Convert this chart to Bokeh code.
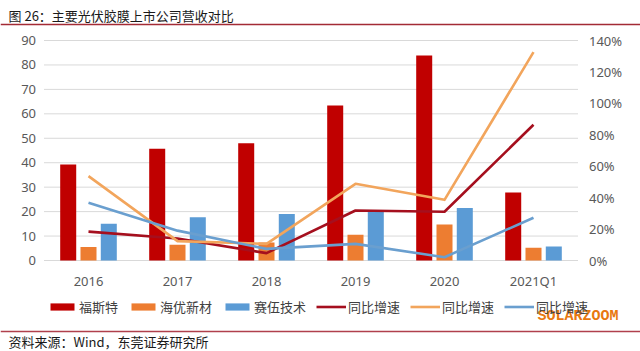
from bokeh.plotting import figure
from bokeh.models import (ColumnDataSource, Range1d, LinearAxis, FixedTicker,
                          PrintfTickFormatter, Legend, LegendItem, Label, Span)
from bokeh.transform import dodge
from bokeh.embed import file_html
from bokeh.resources import INLINE

# ---------------- data ----------------
categories = ["2016", "2017", "2018", "2019", "2020", "2021Q1"]
revenue_fst = [39.3, 45.7, 48.0, 63.4, 83.9, 27.8]      # 福斯特
revenue_hy = [5.5, 6.4, 7.4, 10.5, 14.7, 5.2]           # 海优新材
revenue_sw = [15.0, 17.7, 19.0, 20.0, 21.5, 5.7]        # 赛伍技术
growth_fst = [18.4, 14.0, 4.7, 31.8, 31.0, 86.4]        # 同比增速 (%)
growth_hy = [53.7, 12.3, 10.6, 48.8, 38.6, 132.6]
growth_sw = [36.7, 19.0, 7.4, 10.6, 2.1, 27.2]
left_ticks = [0, 10, 20, 30, 40, 50, 60, 70, 80, 90]
right_ticks = [0, 20, 40, 60, 80, 100, 120, 140]
series_names = ["福斯特", "海优新材", "赛伍技术", "同比增速", "同比增速", "同比增速"]
title_text = "图 26：主要光伏胶膜上市公司营收对比"
source_text = "资料来源：Wind，东莞证券研究所"
watermark = "SOLARZOOM"

# ---------------- layout ----------------
W, H = 640, 351
PL, PR, PT, PB = 43.5, 577.5, 40.0, 260.0
n = len(categories)
cw = (PR - PL) / n
x_start = -0.5 - PL / cw
x_end = (n - 0.5) + (W - PR) / cw
lmax, rmax = left_ticks[-1], right_ticks[-1]
ph = PB - PT
y_start = -(H - PB) / ph * lmax
y_end = lmax + PT / ph * lmax
r_start = -(H - PB) / ph * rmax
r_end = rmax + PT / ph * rmax

RED, ORANGE, BLUE = "#C00000", "#ED7D31", "#5B9BD5"
LRED, LORANGE, LBLUE = "#A50F1E", "#F2A55C", "#6A9FCF"
TXT = "#595959"
FONT = "Noto Sans CJK SC"

p = figure(width=W, height=H, output_backend="svg", toolbar_location=None,
           x_axis_type=None, y_axis_type=None,
           x_range=Range1d(x_start, x_end), y_range=Range1d(y_start, y_end),
           min_border=0, min_border_left=0, min_border_right=0,
           min_border_top=0, min_border_bottom=0)
p.extra_y_ranges = {"pct": Range1d(r_start, r_end)}
p.outline_line_color = None
p.xgrid.visible = False
p.ygrid.visible = False
p.background_fill_color = "white"
p.border_fill_color = "white"

src = ColumnDataSource(dict(
    x=list(range(n)), fst=revenue_fst, hy=revenue_hy, sw=revenue_sw,
    gfst=growth_fst, ghy=growth_hy, gsw=growth_sw))

# gridlines spanning the category band
gsrc = ColumnDataSource(dict(y=left_ticks, x0=[-0.5] * len(left_ticks),
                             x1=[n - 0.5] * len(left_ticks)))
p.segment(x0="x0", x1="x1", y0="y", y1="y", source=gsrc,
          line_color="#D9D9D9", line_width=1)

bw = 0.18
off = 0.228
r1 = p.vbar(x=dodge("x", -off, range=p.x_range), top="fst", width=bw,
            source=src, fill_color=RED, line_color=None)
r2 = p.vbar(x=dodge("x", 0, range=p.x_range), top="hy", width=bw,
            source=src, fill_color=ORANGE, line_color=None)
r3 = p.vbar(x=dodge("x", off, range=p.x_range), top="sw", width=bw,
            source=src, fill_color=BLUE, line_color=None)
l1 = p.line(x="x", y="gfst", source=src, y_range_name="pct",
            line_color=LRED, line_width=2.6, line_join="round")
l2 = p.line(x="x", y="ghy", source=src, y_range_name="pct",
            line_color=LORANGE, line_width=2.6, line_join="round")
l3 = p.line(x="x", y="gsw", source=src, y_range_name="pct",
            line_color=LBLUE, line_width=2.6, line_join="round")

# axes
def style(ax, standoff):
    ax.axis_line_color = None
    ax.major_tick_line_color = None
    ax.minor_tick_line_color = None
    ax.major_tick_in = 0
    ax.major_tick_out = 0
    ax.major_label_standoff = standoff
    ax.major_label_text_font = "Noto Sans"
    ax.major_label_text_font_size = "13px"
    ax.major_label_text_color = TXT

la = LinearAxis(fixed_location=-0.5, ticker=FixedTicker(ticks=left_ticks))
style(la, 8)
p.add_layout(la, "left")
ra = LinearAxis(y_range_name="pct", fixed_location=n - 0.5,
                ticker=FixedTicker(ticks=right_ticks),
                formatter=PrintfTickFormatter(format="%d%%"))
style(ra, 11)
p.add_layout(ra, "right")
ba = LinearAxis(fixed_location=0, ticker=FixedTicker(ticks=list(range(n))),
                major_label_overrides={i: c for i, c in enumerate(categories)})
style(ba, 11)
p.add_layout(ba, "below")

# legend
items = [LegendItem(label=nm, renderers=[r]) for nm, r in
         zip(series_names, [r1, r2, r3, l1, l2, l3])]
leg = Legend(items=items, orientation="horizontal", location=(47, 35),
             glyph_width=30, glyph_height=9, label_standoff=2, spacing=10,
             padding=0, margin=0, label_height=16,
             label_text_font=FONT, label_text_font_size="13px",
             label_text_color="#404040", border_line_color=None,
             background_fill_alpha=0)
p.add_layout(leg, "center")

# decorations
p.add_layout(Span(location=H - 24, location_units="screen", dimension="width",
                  line_color="#A32B35", line_width=1.5))
p.add_layout(Span(location=H - 331, location_units="screen", dimension="width",
                  line_color="#B0404C", line_width=1.5))
p.add_layout(Label(x=8, y=H - 15, x_units="screen", y_units="screen",
                   text=title_text, text_font=FONT, text_font_size="13px",
                   text_color="#1a1a1a", text_baseline="middle"))
p.add_layout(Label(x=8, y=H - 341, x_units="screen", y_units="screen",
                   text=source_text, text_font=FONT, text_font_size="13px",
                   text_color="#1a1a1a", text_baseline="middle"))
p.add_layout(Label(x=537, y=H - 316, x_units="screen", y_units="screen",
                   text=watermark, text_font="Liberation Mono",
                   text_font_size="15px", text_font_style="bold",
                   text_color="#E8780F", text_baseline="middle"))

open("out.html", "w").write(file_html(p, INLINE))
